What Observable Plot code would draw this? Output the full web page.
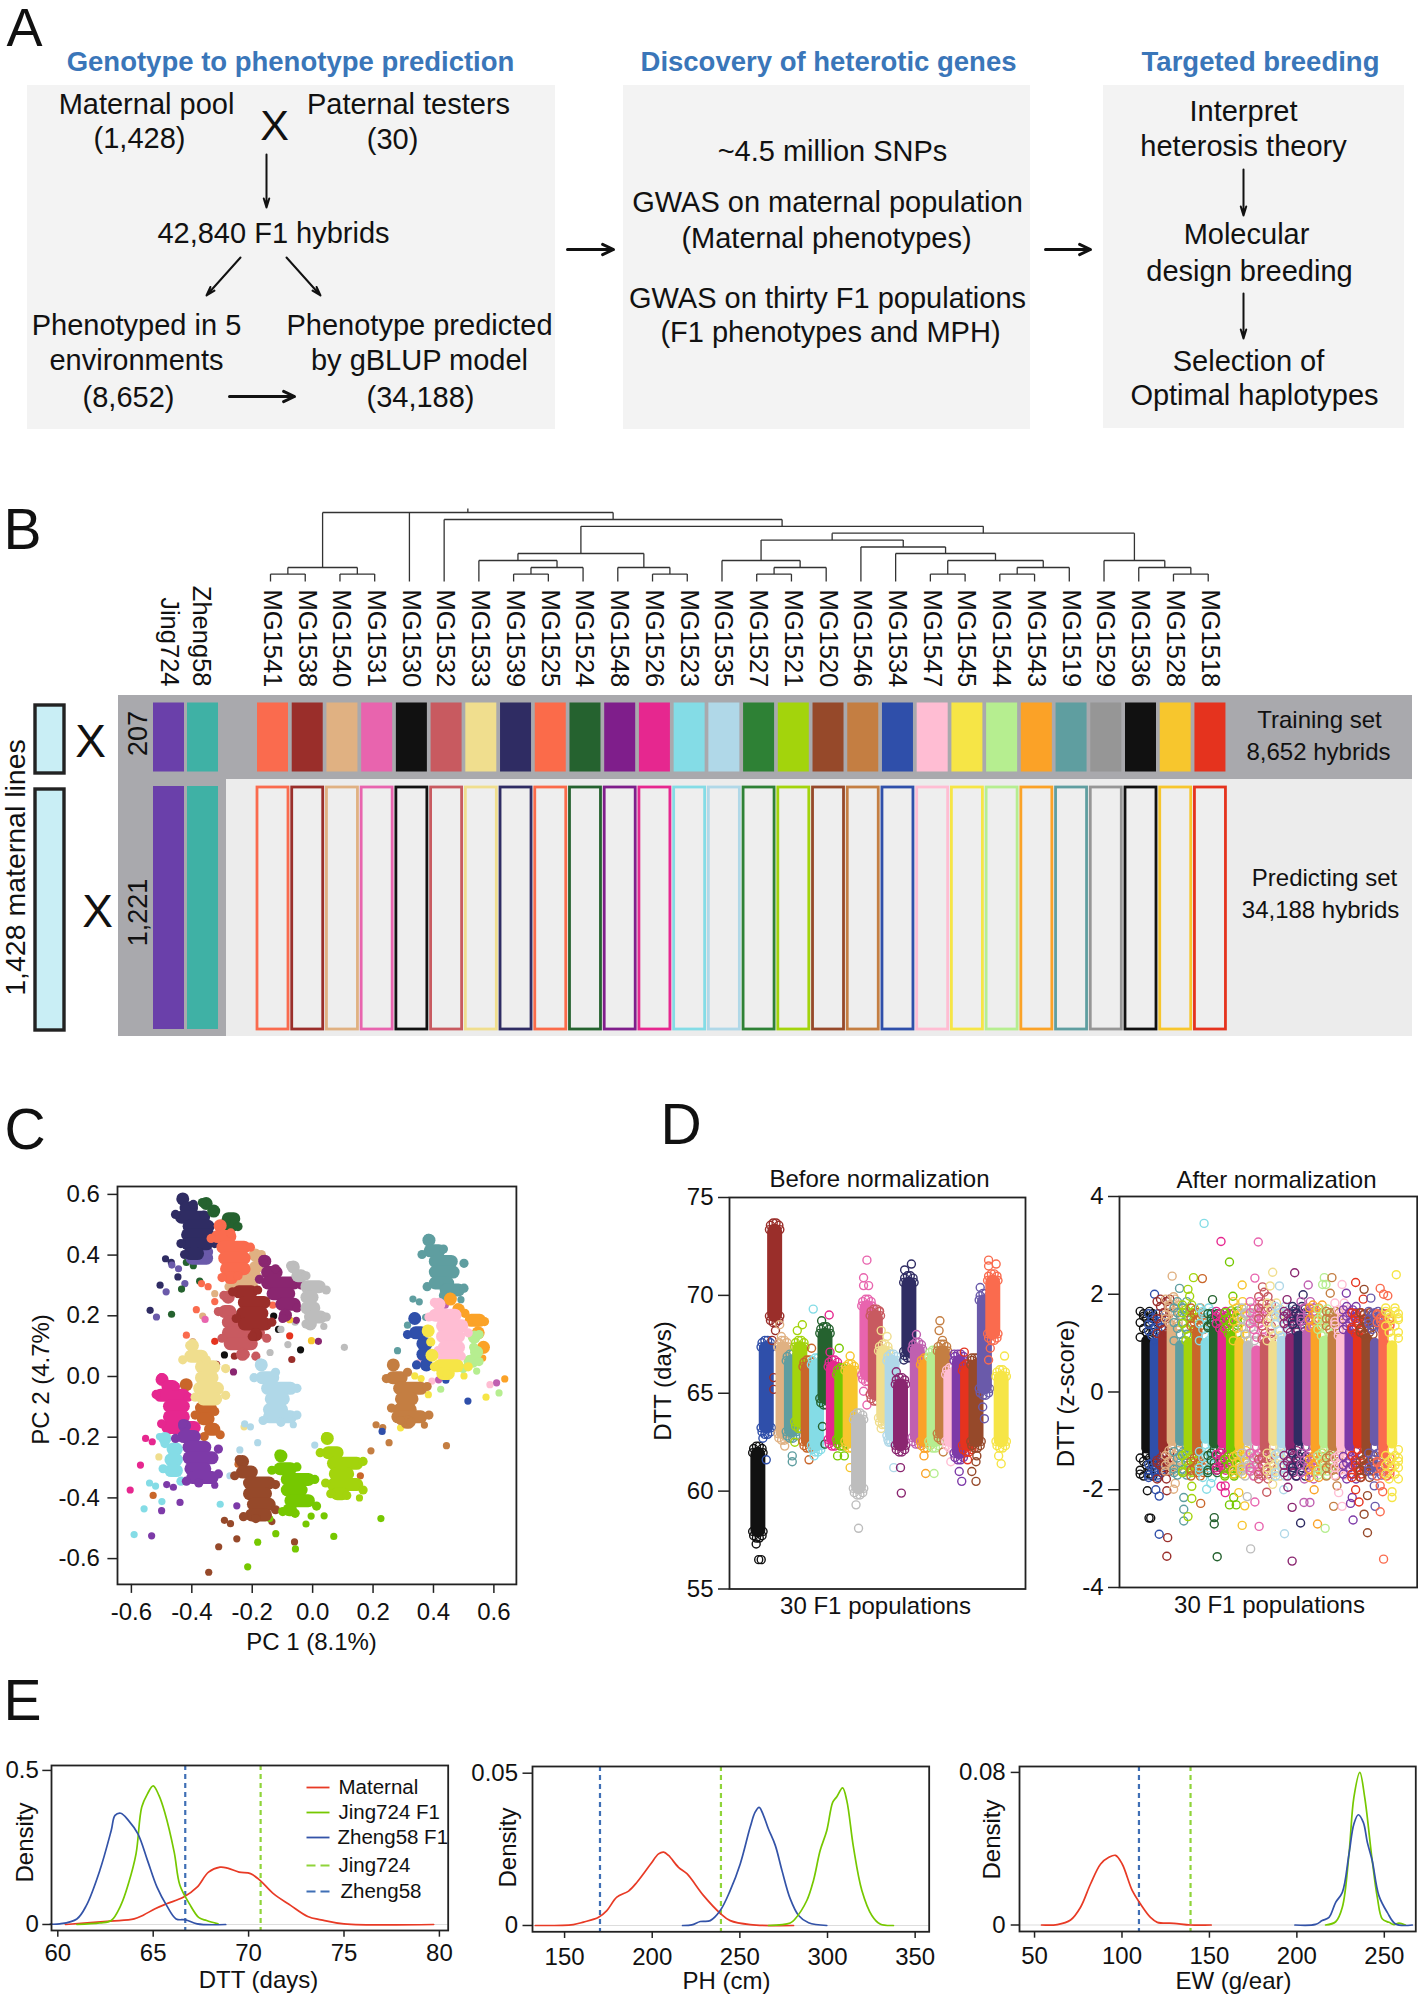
<!DOCTYPE html>
<html><head><meta charset="utf-8">
<script src="https://cdn.jsdelivr.net/npm/d3@7"></script>
<script src="https://cdn.jsdelivr.net/npm/@observablehq/plot@0.6"></script>
<style>
html,body{margin:0;padding:0;background:#fff}
#root{position:relative;width:1418px;height:1994px;overflow:hidden}
#root>div{position:absolute}
svg{display:block}
</style></head><body><div id="root"></div>
<script>
// ---------- panel A text
const headings=[["Genotype to phenotype prediction",290,62],["Discovery of heterotic genes",828,62],["Targeted breeding",1260,62]];
const boxTexts=[["Maternal pool",146,104],["(1,428)",139,138],["Paternal testers",408,104],["(30)",392,139],["42,840 F1 hybrids",273,233],["Phenotyped in 5",136,325],["environments",136,360],["(8,652)",128,397],["Phenotype predicted",419,325],["by gBLUP model",419,360],["(34,188)",420,397],
["~4.5 million SNPs",832,151],["GWAS on maternal population",827,202],["(Maternal phenotypes)",826,238],["GWAS on thirty F1 populations",827,298],["(F1 phenotypes and MPH)",830,332],
["Interpret",1243,111],["heterosis theory",1243,146],["Molecular",1246,234],["design breeding",1249,271],["Selection of",1248,361],["Optimal haplotypes",1254,395]];
const boxes=[[27,555,85,429],[623,1030,85,429],[1103,1404,85,428]];
const thinArrows=[[266,154,266,207],[240,257,206,295],[286,257,320,295],[1243,169,1243,215],[1243,293,1243,338]];
const thickArrows=[[229,396,294,396],[567,249,613,249],[1045,249,1090,249]];
// ---------- panel B
const testers=["MG1541","MG1538","MG1540","MG1531","MG1530","MG1532","MG1533","MG1539","MG1525","MG1524","MG1548","MG1526","MG1523","MG1535","MG1527","MG1521","MG1520","MG1546","MG1534","MG1547","MG1545","MG1544","MG1543","MG1519","MG1529","MG1536","MG1528","MG1518"];
const testerColors=["#fa6b4e","#9a2e2a","#e0b182","#e864ae","#111111","#c85a60","#f0de8e","#2f2c63","#fb6b4a","#25622f","#7f1e8b","#e6278f","#84dce6","#b0d8e8","#2e8135","#a3d40c","#96492a","#c47e42","#2f4faa","#ffbdd3","#f6e546","#b6ee90","#fba227","#5f9ea0","#969696","#111111","#f7c62d","#e5331e"];
const tree=[10,[2,[1,0,1],[1,2,3]],4,[9,5,[8,[4,[3,6,[2,[1,7,8],9]],[2,10,[1,11,12]]],[7,[6,[3,13,[2,[1,14,15],16]],[5,17,[4,18,[3,[1,19,20],[2,[1,21,22],23]]]]],[3,24,[2,25,[1,26,27]]]]]]];
const treeLevels=[581,573.6,567,560,553,546.5,539.6,532.7,525.8,519,512];
// ---------- panel D / C palette (30 populations)
const popColors=["#111111","#2f4faa","#9a2e2a","#e0b182","#5f9ea0","#a3d40c","#c9662a","#84dce6","#25622f","#e6278f","#76c800","#f7c62d","#bdbdbd","#e864ae","#c85a60","#f0de8e","#b0d8e8","#8a2670","#2f2c63","#c060b0","#fba227","#b6ee90","#c47e42","#ffbdd3","#7d3aa8","#e5331e","#96492a","#6a5aaa","#fa6b4e","#f6e546"];
// ---------- panel C clusters: colour, body spans [x start, x end, y], edge points [x, y]
const pcaClusters=[
["#6a5aaa",[[-.42,-.33,.39],[-.40,-.33,.41]],[]],
["#2f2c63",[[-.44,-.42,.585],[-.44,-.38,.555],[-.455,-.34,.525],[-.43,-.325,.495],[-.435,-.325,.467],[-.435,-.33,.437],[-.425,-.36,.405]],[[-.454,.534],[-.395,.567],[-.359,.532],[-.436,.438],[-.424,.402],[-.324,.438]]],
["#25622f",[[-.365,-.34,.57],[-.345,-.31,.545],[-.30,-.24,.52],[-.30,-.247,.497]],[[-.365,.573],[-.324,.544],[-.288,.511],[-.247,.494]]],
["#e0b182",[[-.21,-.17,.40],[-.21,-.165,.36],[-.25,-.17,.33],[-.282,-.182,.30]],[[-.17,.402],[-.277,.296],[-.217,.326],[-.188,.32]]],
["#fa6b4e",[[-.318,-.294,.497],[-.336,-.253,.461],[-.318,-.206,.426],[-.312,-.206,.39],[-.306,-.206,.355],[-.294,-.247,.326]],[[-.336,.455],[-.271,.473],[-.206,.426],[-.30,.326],[-.247,.332],[-.312,.496]]],
["#8a2670",[[-.17,-.147,.38],[-.17,-.10,.343],[-.17,-.04,.308],[-.152,-.058,.273],[-.123,-.04,.238],[-.11,-.07,.202]],[[-.164,.385],[-.123,.355],[-.04,.302],[-.052,.226],[-.099,.191],[-.176,.32]]],
["#bdbdbd",[[-.076,-.052,.361],[-.07,-.017,.332],[-.04,.043,.296],[-.04,.019,.261],[-.04,.025,.226],[-.028,.048,.196],[-.022,.007,.173]],[[-.073,.365],[-.022,.332],[.045,.285],[.045,.196],[-.022,.173]]],
["#c85a60",[[-.294,-.265,.261],[-.312,-.253,.214],[-.30,-.182,.179],[-.30,-.158,.144],[-.294,-.182,.108],[-.247,-.217,.073]],[[-.294,.267],[-.312,.214],[-.30,.126],[-.223,.073],[-.188,.067],[-.152,.126]]],
["#9a2e2a",[[-.265,-.182,.279],[-.247,-.14,.244],[-.253,-.147,.208],[-.247,-.135,.173],[-.206,-.17,.138]],[[-.265,.279],[-.182,.285],[-.135,.179],[-.253,.191],[-.2,.132]]],
["#c9662a",[[-.424,-.413,-.027],[-.389,-.318,-.104],[-.383,-.325,-.139],[-.359,-.306,-.174]],[[-.324,-.115],[-.306,-.192],[-.389,-.127],[-.359,-.198]]],
["#e6278f",[[-.507,-.49,-.01],[-.50,-.442,-.033],[-.525,-.407,-.062],[-.495,-.407,-.098],[-.495,-.407,-.133],[-.50,-.371,-.168]],[[-.5,-.004],[-.518,-.059],[-.412,-.068],[-.5,-.156],[-.454,-.033]]],
["#f0de8e",[[-.407,-.389,.102],[-.424,-.347,.067],[-.389,-.306,.032],[-.389,-.312,-.004],[-.395,-.294,-.039],[-.383,-.30,-.074]],[[-.407,.102],[-.43,.055],[-.288,.026],[-.288,-.062],[-.389,-.068],[-.352,.055]]],
["#84dce6",[[-.50,-.478,-.204],[-.483,-.43,-.239],[-.49,-.43,-.274],[-.49,-.43,-.31]],[[-.495,-.304],[-.489,-.221],[-.436,-.345]]],
["#7d3aa8",[[-.43,-.418,-.162],[-.448,-.371,-.198],[-.43,-.336,-.233],[-.43,-.312,-.268],[-.424,-.336,-.304],[-.418,-.312,-.333]],[[-.43,-.156],[-.454,-.204],[-.312,-.239],[-.312,-.321],[-.377,-.351],[-.418,-.345]]],
["#b0d8e8",[[-.176,-.164,.038],[-.188,-.111,-.004],[-.17,-.052,-.039],[-.158,-.076,-.074],[-.164,-.082,-.109],[-.164,-.052,-.133]],[[-.174,.044],[-.194,-.004],[-.052,-.039],[-.052,-.127],[-.164,-.145],[-.105,-.151],[-.123,.014]]],
["#96492a",[[-.241,-.223,-.28],[-.253,-.182,-.315],[-.23,-.123,-.351],[-.23,-.135,-.386],[-.217,-.123,-.421],[-.223,-.135,-.456]],[[-.243,-.274],[-.258,-.327],[-.123,-.356],[-.123,-.439],[-.229,-.462],[-.188,-.468]]],
["#76c800",[[-.111,-.099,-.262],[-.129,-.052,-.304],[-.105,.007,-.339],[-.105,-.017,-.374],[-.093,.007,-.409],[-.099,-.052,-.439]],[[-.111,-.256],[-.135,-.309],[-.052,-.298],[.007,-.339],[.013,-.427],[-.099,-.445],[-.058,-.451]]],
["#a3d40c",[[.043,.054,-.204],[.031,.102,-.251],[.048,.167,-.286],[.054,.137,-.321],[.048,.167,-.356],[.06,.119,-.386]],[[.045,-.198],[.025,-.251],[.167,-.28],[.167,-.374],[.06,-.386],[.113,-.392],[.043,-.351]]],
["#5f9ea0",[[.379,.391,.449],[.368,.439,.414],[.385,.48,.379],[.385,.486,.344],[.385,.468,.308],[.421,.504,.285]],[[.383,.455],[.362,.402],[.433,.42],[.501,.373],[.379,.296],[.501,.291],[.433,.267]]],
["#2f4faa",[[.332,.344,.191],[.32,.38,.144],[.344,.397,.108],[.344,.397,.073],[.362,.391,.038]],[[.336,.196],[.314,.138],[.344,.038]]],
["#fba227",[[.45,.462,.255],[.462,.504,.22],[.504,.574,.185],[.539,.557,.144],[.557,.574,.096]],[[.454,.261],[.504,.208],[.569,.181],[.563,.091],[.545,.179],[.48,.226]]],
["#b6ee90",[[.52,.55,.13],[.525,.56,.08],[.50,.55,.05]],[[.551,.138],[.533,.096],[.551,.049],[.498,.026]]],
["#ffbdd3",[[.403,.433,.238],[.385,.492,.202],[.409,.515,.167],[.409,.504,.132],[.415,.504,.096],[.415,.492,.061]],[[.403,.244],[.385,.196],[.515,.144],[.492,.067],[.415,.085]]],
["#f6e546",[[.375,.39,.15],[.39,.40,.07],[.40,.50,.035],[.41,.47,.01]],[[.379,.155],[.391,.114],[.444,.008],[.515,.032],[.403,.032]]],
["#c47e42",[[.261,.273,.038],[.244,.314,-.004],[.267,.379,-.039],[.273,.35,-.074],[.267,.344,-.109],[.261,.379,-.133],[.291,.338,-.151]],[[.264,.04],[.244,-.007],[.379,-.033],[.385,-.127],[.261,-.104],[.326,-.151],[.291,-.145],[.314,.014]]]
];
// panel C scattered points: colour, x, y
const pcaDots=[
["#2f2c63",[[-.487,.388],[-.468,.376],[-.446,.328],[-.505,.301],[-.538,.218]]],
["#6a5aaa",[[-.466,.367],[-.444,.355],[-.423,.306],[-.485,.279],[-.517,.196]]],
["#25622f",[[-.418,.376],[-.395,.365],[-.374,.314],[-.434,.288],[-.467,.205]]],
["#fa6b4e",[[-.368,.306],[-.346,.296],[-.324,.247],[-.385,.22],[-.418,.136],[-.132,.235]]],
["#e0b182",[[-.364,.199],[-.397,.115],[-.324,.273]]],
["#e864ae",[[-.356,.188]]],
["#e5331e",[[-.324,.116],[-.076,.134]]],
["#9a2e2a",[[-.30,.126],[-.318,.04],[-.352,-.045],[-.069,.056],[-.259,.067]]],
["#111111",[[-.292,.071],[-.04,.088],[-.129,.199],[-.113,.155]]],
["#bdbdbd",[[-.141,.079],[-.082,.105],[.105,.096],[.037,.165],[-.058,.179],[-.105,.155]]],
["#8a2670",[[.019,.116],[-.262,.015],[-.229,.099],[-.054,.185]]],
["#f7c62d",[[-.004,.118],[-.076,.187]]],
["#7d3aa8",[[-.483,-.356],[-.461,-.365],[-.439,-.415],[-.5,-.442],[-.533,-.525],[-.324,-.358],[-.251,-.426]]],
["#84dce6",[[-.54,-.351],[-.52,-.361],[-.499,-.412],[-.558,-.436],[-.591,-.521],[-.306,-.421],[-.507,-.198]]],
["#e6278f",[[-.553,-.204],[-.531,-.215],[-.57,-.292],[-.604,-.374]]],
["#f0de8e",[[-.478,-.182],[-.509,-.265],[-.459,-.094],[-.439,-.106],[-.227,-.166]]],
["#c9662a",[[-.528,-.392],[-.247,-.289],[-.423,-.025],[.158,-.327]]],
["#b0d8e8",[[-.225,-.156],[-.206,-.166],[-.241,-.242],[-.182,-.218],[.007,-.226],[-.064,-.159],[-.274,-.327]]],
["#96492a",[[-.292,-.474],[-.272,-.485],[-.251,-.535],[-.311,-.561],[-.344,-.645],[-.06,-.545],[-.135,-.478],[-.188,-.468]]],
["#76c800",[[-.163,-.458],[-.142,-.468],[-.122,-.518],[-.182,-.546],[-.215,-.627],[-.057,-.568],[-.022,-.486],[-.005,-.46],[.038,-.459],[.07,-.527],[.226,-.468]]],
["#a3d40c",[[.155,-.4]]],
["#c47e42",[[.21,-.159],[.232,-.168],[.253,-.218],[.193,-.245],[.443,-.228],[.37,-.16]]],
["#2f4faa",[[.23,-.181],[.514,-.081],[.441,-.012],[.415,.032]]],
["#f6e546",[[.291,-.169],[.574,-.068],[.501,.002],[.338,.002],[.359,-.007],[.383,-.06]]],
["#ffbdd3",[[.303,-.127],[.587,-.027],[.395,-.015],[.336,-.042],[.352,.046]]],
["#c060b0",[[.609,-.021],[.417,-.011],[.427,.249],[.439,.235]]],
["#b6ee90",[[.617,-.054],[.424,-.042],[.543,.018]]],
["#fba227",[[.636,-.008],[.563,.061]]],
["#5f9ea0",[[.332,.255],[.353,.246],[.374,.195],[.314,.169],[.281,.085],[.491,.253]]]
];
// ---------- panel D before normalization: top and bottom of each strip
const beforeHi=[62.3,67.7,73.7,67.7,67,67.7,66.7,66.8,68.4,66.7,66.3,66.5,64,69.8,69.3,67.5,67,65.8,71,67.6,66.8,67.2,67.5,66.3,67,66.5,66.8,70.1,71.1,66.2];
const beforeLo=[57.6,62.9,68.6,62.6,62.7,63.2,62.2,62,64.4,62.3,62.3,62.2,59.8,65.6,64.6,63.4,62.5,62,66.8,62.4,62.2,62.2,62.6,62.2,61.6,62,62.2,64.9,67.7,62.2];
// pop, position, y
const beforeOut=[[1,.8,57.3],[1,1.1,56.5],[1,1.4,56.5],[2,1.6,62.7],[2,2,61.6],[3,2.7,67.7],[3,3.1,68.2],[3,2.9,65.8],[3,2.9,65.2],[4,3.6,68.5],[4,3.8,67.9],[4,4.2,62.3],[5,5.1,61.8],[5,5.1,61.5],[6,5.7,68.2],[6,6.3,68.5],[6,5.4,62.5],[7,7.4,67.3],[7,7.1,61.6],[8,7.6,69.3],[8,7.7,61.8],[9,8.6,68.7],[9,8.7,63.3],[9,9,62.4],[10,9.5,69],[10,9.6,67.1],[11,10.7,67.3],[11,10.5,61.8],[11,11.3,61.8],[12,12,66.9],[12,12,61.2],[13,12.7,59.3],[13,13,58.1],[14,14,71.8],[14,13.6,70.9],[14,13.6,70.5],[14,14.2,70.5],[14,13.6,65.1],[14,14,64.4],[15,15.5,69.2],[15,15.3,68.8],[16,15.7,68.2],[16,16.4,67.9],[16,15.7,63.2],[17,17.2,61.2],[17,16.6,62.5],[18,17.5,66.1],[18,18,61.2],[18,18.1,59.9],[19,19.3,71.6],[19,18.5,71.3],[19,18.4,66.7],[20,19.9,68],[21,21,60.9],[21,20.8,61.8],[22,22,60.9],[23,22.7,68.7],[23,22.6,68.2],[23,23,67.7],[23,23.1,62],[24,24,61.5],[25,25.3,60.5],[25,25,61],[25,24.4,67],[26,25.6,67.1],[26,26,61.6],[27,27,60.5],[27,26.5,61],[27,27,61.5],[27,27.1,61.8],[27,26.5,66.8],[28,27.5,70.4],[28,28,63.7],[28,27.8,64.3],[29,28.5,71.8],[29,29.4,71.6],[29,28.5,71.5],[29,28.5,66.7],[29,28.7,67.3],[30,30.4,66.9],[30,30,61.4],[30,29.7,61.8]];
// ---------- panel D after normalization
const afterHi=[1.05,1.0,1.15,1.3,.95,1.0,1.25,1.0,1.3,1.2,1.15,1.0,.95,.85,1.0,.95,1.05,1.1,1.15,1.2,1.25,1.05,1.15,1.1,1.2,1.15,1.1,1.0,1.3,.95];
const afterLo=[-1.15,-1.3,-1.15,-1.0,-1.0,-1.1,-1.2,-.95,-1.05,-1.05,-1.15,-1.1,-1.0,-1.0,-1.15,-1.0,-1.05,-1.1,-1.0,-1.0,-1.15,-1.05,-1.1,-1.1,-1.1,-1.05,-1.2,-1.0,-1.25,-1.05];
const afterTop=[
[1.65,1.6,1.5,1.42,1.3,1.22,1.12,1.55],[1.6,1.45,1.32,1.25,1.15,1.05,1.38,1.52],[1.85,1.75,1.62,1.5,1.4,1.28,1.2,1.9],[1.9,1.78,1.65,1.5,1.42,1.35,1.58,1.72],[1.72,1.62,1.55,1.42,1.3,1.18,1.05,1.85],[1.78,1.68,1.52,1.4,1.28,1.15,1.62,1.05],
[1.72,1.6,1.48,1.35,1.28,1.62,1.52,1.42],[1.72,1.6,1.52,1.4,1.28,1.15,1.05,1.65],[1.6,1.5,1.42,1.35,1.6,1.48,1.32,1.4],[1.65,1.6,1.5,1.4,1.3,1.25,1.55,1.45],[1.62,1.52,1.42,1.3,1.2,1.66,1.48,1.36],[1.85,1.72,1.6,1.45,1.3,1.18,1.05,1.55],
[1.72,1.6,1.45,1.32,1.18,1.05,1.5,1.62],[1.85,1.7,1.55,1.4,1.28,1.12,1.62,1.48],[1.95,1.8,1.65,1.5,1.35,1.2,1.72,1.08],[1.82,1.7,1.58,1.42,1.28,1.15,1.05,1.52],[1.75,1.62,1.5,1.38,1.25,1.12,1.55,1.68],[1.65,1.6,1.5,1.4,1.3,1.22,1.55,1.45],
[1.75,1.62,1.5,1.38,1.25,1.58,1.45,1.7],[1.85,1.72,1.58,1.45,1.32,1.65,1.52,1.38],[1.72,1.58,1.45,1.32,1.78,1.62,1.48,1.35],[1.7,1.55,1.42,1.28,1.15,1.62,1.48,1.35],[1.65,1.5,1.48,1.35,1.28,1.42,1.5,1.62],[1.82,1.68,1.52,1.38,1.25,1.62,1.45,1.15],
[1.68,1.55,1.42,1.28,1.75,1.62,1.48,1.35],[1.62,1.5,1.4,1.28,1.6,1.45,1.32,1.2],[1.62,1.48,1.35,1.22,1.58,1.42,1.3,1.18],[1.65,1.6,1.52,1.4,1.28,1.62,1.48,1.35],[1.6,1.5,1.38,1.58,1.45,1.35,1.42,1.52],[1.72,1.6,1.48,1.35,1.22,1.1,1.65,1.52]];
const afterBot=[
[-1.25,-1.35,-1.42,-1.5,-1.6,-1.72,-1.3,-1.68],[-1.38,-1.48,-1.55,-1.65,-1.75,-1.45,-1.6,-1.7],[-1.25,-1.4,-1.5,-1.62,-1.78,-1.35,-1.55,-1.45],[-1.15,-1.3,-1.42,-1.55,-1.62,-1.2,-1.38,-1.5],[-1.12,-1.22,-1.35,-1.45,-1.58,-1.7,-1.3,-1.65],[-1.2,-1.3,-1.42,-1.55,-1.65,-1.25,-1.5,-1.62],
[-1.3,-1.42,-1.55,-1.65,-1.72,-1.35,-1.48,-1.6],[-1.08,-1.22,-1.35,-1.48,-1.62,-1.75,-1.3,-1.55],[-1.18,-1.3,-1.4,-1.55,-1.65,-1.25,-1.45,-1.6],[-1.18,-1.28,-1.38,-1.5,-1.6,-1.25,-1.42,-1.55],[-1.25,-1.38,-1.5,-1.62,-1.72,-1.32,-1.45,-1.68],[-1.2,-1.32,-1.45,-1.55,-1.68,-1.28,-1.42,-1.6],
[-1.12,-1.25,-1.38,-1.5,-1.62,-1.72,-1.3,-1.55],[-1.12,-1.25,-1.35,-1.48,-1.62,-1.72,-1.3,-1.55],[-1.25,-1.38,-1.5,-1.62,-1.78,-1.35,-1.45,-1.68],[-1.12,-1.25,-1.38,-1.5,-1.62,-1.72,-1.32,-1.55],[-1.15,-1.28,-1.4,-1.55,-1.65,-1.25,-1.48,-1.72],[-1.2,-1.3,-1.42,-1.52,-1.65,-1.72,-1.35,-1.5],
[-1.12,-1.25,-1.38,-1.5,-1.62,-1.72,-1.32,-1.55],[-1.12,-1.25,-1.4,-1.55,-1.65,-1.78,-1.32,-1.48],[-1.25,-1.38,-1.5,-1.62,-1.75,-1.32,-1.45,-1.58],[-1.18,-1.3,-1.42,-1.55,-1.7,-1.25,-1.48,-1.62],[-1.22,-1.35,-1.48,-1.6,-1.72,-1.3,-1.42,-1.55],[-1.22,-1.35,-1.48,-1.6,-1.7,-1.3,-1.42,-1.55],
[-1.22,-1.32,-1.45,-1.55,-1.68,-1.78,-1.38,-1.5],[-1.18,-1.3,-1.5,-1.62,-1.75,-1.4,-1.55,-1.68],[-1.3,-1.42,-1.52,-1.62,-1.75,-1.38,-1.48,-1.6],[-1.12,-1.25,-1.38,-1.5,-1.62,-1.7,-1.3,-1.55],[-1.35,-1.45,-1.55,-1.68,-1.42,-1.52,-1.62,-1.72],[-1.18,-1.3,-1.42,-1.55,-1.68,-1.78,-1.35,-1.5]];
const afterOut=[[8,7.8,3.45],[10,9.8,3.08],[14,14.2,3.07],[11,10.8,2.66],[4,4.03,2.37],[6,6.55,2.34],[7,7.6,2.32],[30,30.5,2.4],[16,15.9,2.45],[18,18.5,2.44],[22,22,2.34],[23,22.9,2.34],[14,13.8,2.33],[26,25.7,2.24],[12,12.3,2.19],[20,20.1,2.19],[24,24.1,2.2],[27,26.7,2.1],[29,28.6,2.12],[5,4.9,2.12],[6,5.9,2.1],[2,1.95,2],[25,24.6,2.02],[19,19.5,1.99],[23,22.7,2.02],[29,29.5,1.97],[28,27.5,1.92],[18,17.6,1.89],[9,8.8,1.89],[11,11.2,1.96],[16,15.6,2.17],[17,16.7,2.17],[4,4.2,1.95],[6,6.1,1.96],[15,14.7,2.15],[15,14.9,2.04],[22,21.8,2.2],[22,22.2,2.2],[26,26.6,1.9],[29,29,2.0],
[1,1.1,-2.02],[1,1.5,-2.58],[1,1.3,-2.58],[2,2.1,-2],[2,2.5,-2.13],[2,2.5,-2.91],[3,3.5,-2.98],[3,3.4,-3.36],[3,3.4,-2.02],[4,4.4,-1.87],[4,4.2,-1.99],[5,5.4,-2.16],[5,5.4,-2.4],[5,5.4,-2.64],[6,5.9,-2.55],[6,6.35,-2.18],[6,6.35,-1.93],[7,7.4,-2.28],[8,8.1,-1.99],[8,8.6,-1.87],[9,9,-2.57],[9,9,-2.7],[9,9.35,-3.37],[10,9.8,-1.93],[10,10.3,-1.92],[10,10.3,-2.06],[11,11.3,-2.16],[11,10.8,-2.31],[11,11.6,-2.31],[12,11.9,-2.06],[12,12.6,-2.33],[12,12.3,-2.73],[13,12.9,-2.14],[13,13.3,-3.21],[14,13.8,-2.25],[14,14.3,-2.75],[15,15.2,-2.05],[16,15.9,-1.89],[17,17.3,-2.9],[17,17.2,-2],[18,17.7,-1.95],[18,18.2,-2.36],[18,18.2,-3.46],[19,19.2,-2.68],[20,19.6,-2.26],[20,20.3,-2.26],[21,21.2,-2.7],[21,20.8,-2],[22,22.1,-2.79],[23,23.1,-2.34],[23,23.5,-1.92],[24,23.7,-2.06],[24,24.1,-2.34],[25,25.1,-2.28],[25,25.3,-2.16],[25,25.4,-2.62],[26,25.7,-2],[26,26.1,-2.25],[27,27.1,-2.12],[27,26.7,-2.5],[27,27.1,-2.88],[28,28,-2.34],[28,27.9,-1.92],[29,28.6,-2.45],[29,28.6,-1.92],[29,28.9,-2.04],[29,29,-3.42],[30,30,-2.16],[30,30,-2.04]];
// ---------- panel E curves: [x, density]
const dttMaternal=[[60.4,0],[62.76,.011],[64,.018],[64.5,.031],[65.1,.051],[65.7,.067],[66.6,.089],[67.3,.121],[67.9,.17],[68.5,.186],[68.9,.183],[69.5,.17],[70.1,.165],[70.6,.143],[71.3,.1],[72.2,.062],[73.1,.026],[73.8,.015],[75,.002],[79.7,0]];
const dttJing=[[61,0],[62.2,.005],[62.8,.013],[63.3,.062],[63.7,.132],[64.1,.229],[64.4,.381],[64.7,.424],[65,.45],[65.3,.419],[65.6,.365],[66.1,.235],[66.4,.127],[66.9,.067],[67.4,.022],[67.8,.013],[68.4,.002]];
const dttZheng=[[59.6,.001],[60.1,.002],[61,.018],[61.5,.062],[62.2,.175],[62.8,.305],[63,.354],[63.3,.361],[63.7,.338],[64.2,.294],[64.7,.208],[65.2,.121],[65.7,.062],[66.2,.018],[66.7,.015],[67.3,.002],[68.8,0]];
const phMaternal=[[133.3,0],[155,.0003],[160.8,.0011],[169.4,.0027],[174.1,.0049],[179.8,.0093],[186.5,.0113],[191.3,.0142],[198.9,.02],[203.6,.0235],[206.5,.0241],[209.3,.023],[215,.0191],[219.8,.017],[229.3,.0098],[238.8,.004],[244.5,.0016],[255.9,.0003],[280.6,0]];
const phZheng=[[217.3,0],[222.6,.0002],[227.4,.0013],[233.1,.0016],[238.8,.0049],[244.5,.0115],[250.2,.0202],[255.9,.0323],[258.7,.0372],[261,.0388],[263.5,.0361],[266.3,.0317],[270.2,.0263],[274,.0181],[278.7,.0088],[283.5,.0033],[289.2,.0009],[299.6,0]];
const phJing=[[266.3,0],[278.7,.0008],[281.6,.0022],[288.2,.0082],[292,.0148],[295.8,.0246],[299.6,.0312],[303,.0405],[305.3,.0423],[308.6,.0452],[311,.041],[314.8,.0257],[319.6,.0115],[325.3,.0033],[330,.0005],[337.6,0]];
const ewMaternal=[[54,0],[63,.0002],[70.6,.0026],[76.3,.0093],[82,.0215],[87.8,.032],[92.5,.0355],[96.3,.0365],[100.1,.032],[105.9,.018],[110.6,.011],[116.3,.004],[120.2,.0014],[129.7,.0009],[139.2,0],[151,0]];
const ewZheng=[[198.9,0],[210.7,.0003],[214.5,.0023],[218.4,.004],[222.2,.0119],[226,.0171],[229.8,.0372],[232.6,.0529],[235.1,.0578],[238,.0538],[240.3,.0433],[243.1,.0337],[246.9,.0154],[251.7,.0066],[256.5,.0005],[266,0]];
const ewJing=[[216.4,0],[222.2,.0017],[226,.0093],[229.8,.0372],[232.6,.0669],[236,.08],[238.8,.0669],[243.1,.0337],[246,.0145],[248.9,.0031],[252.7,.0014],[255.5,.0002],[258.4,.001],[262,0]];
const legendNames=["Maternal","Jing724 F1","Zheng58 F1","Jing724","Zheng58"];
const legendColors=["#e83a25","#76c800","#3353a8","#8fd43a","#3f6fb5"];
// ---------- helpers
const FONT='"Liberation Sans",Arial,sans-serif';
const INK="#111";
const root=document.getElementById("root");
function mount(svg,l,t,w,h){const d=document.createElement("div");d.style.cssText=`left:${l}px;top:${t}px;width:${w}px;height:${h}px`;d.appendChild(svg);root.appendChild(d);}
function panel([l,t,r,b],xDomain,yDomain,marks){
  const P={L:110,T:30,R:24,B:60};
  const w=r-l+P.L+P.R,h=b-t+P.T+P.B;
  const svg=Plot.plot({width:w,height:h,marginLeft:P.L,marginTop:P.T,marginRight:P.R,marginBottom:P.B,
    x:{domain:xDomain,axis:null},y:{domain:yDomain,axis:null},
    style:{background:"transparent",fontFamily:FONT,maxWidth:"none"},marks});
  mount(svg,l-P.L,t-P.T,w,h);
}
const txt=(rows,o)=>Plot.text(rows,{x:d=>d[1],y:d=>d[2],text:d=>d[0],fontSize:29,fill:INK,...o});
const frame=()=>Plot.frame({stroke:"#222",strokeWidth:1.8});
const yAxis=(ticks,pad,size,fmt)=>Plot.axisY({ticks,tickSize:size,tickPadding:pad,fontSize:24,label:null,tickFormat:fmt,stroke:"#222",strokeWidth:1.5,fill:INK});
const xAxis=(ticks,pad,size,fmt)=>Plot.axisX({ticks,tickSize:size,tickPadding:pad,fontSize:24,label:null,tickFormat:fmt,stroke:"#222",strokeWidth:1.5,fill:INK});
// ---------- dendrogram segments
const treeSegs=[];
const leafX=i=>270+i*34.73;
function walk(n){
  if(typeof n==="number")return {x:leafX(n),y:treeLevels[0]};
  const y=treeLevels[n[0]];
  const kids=n.slice(1).map(walk);
  const a=kids[0].x,b=kids[kids.length-1].x;
  treeSegs.push([a,y,b,y]);
  kids.forEach(k=>treeSegs.push([k.x,y,k.x,k.y]));
  return {x:(a+b)/2,y};
}
const rootNode=walk(tree);
treeSegs.push([rootNode.x,rootNode.y,rootNode.x,508]);
// ---------- schematic layer
const swX=i=>257+i*34.72, SW=31;
const idx=d3.range(testers.length);
const schematic=Plot.plot({width:1418,height:1994,margin:0,x:{domain:[0,1418],range:[0,1418],axis:null},y:{domain:[0,1994],range:[0,1994],axis:null},
 style:{background:"transparent",fontFamily:FONT,maxWidth:"none"},
 marks:[
  Plot.rect(boxes,{x1:d=>d[0],x2:d=>d[1],y1:d=>d[2],y2:d=>d[3],fill:"#f3f3f3"}),
  txt(headings,{fontSize:27.5,fontWeight:"bold",fill:"#3a76b9"}),
  txt(boxTexts,{}),
  txt([["X",274,126]],{fontSize:43}),
  Plot.arrow(thinArrows,{x1:d=>d[0],y1:d=>d[1],x2:d=>d[2],y2:d=>d[3],stroke:INK,strokeWidth:2,headLength:7,headAngle:34}),
  Plot.arrow(thickArrows,{x1:d=>d[0],y1:d=>d[1],x2:d=>d[2],y2:d=>d[3],stroke:INK,strokeWidth:3,headLength:6,headAngle:50}),
  txt([["A",6,28]],{fontSize:54,textAnchor:"start"}),
  txt([["B",3,530],["C",4,1130],["D",660,1125],["E",3,1701]],{fontSize:57,textAnchor:"start"}),
  // panel B
  Plot.link(treeSegs,{x1:d=>d[0],y1:d=>d[1],x2:d=>d[2],y2:d=>d[3],stroke:"#333",strokeWidth:1.3}),
  txt(testers.map((t,i)=>[t,leafX(i)+1.5,589]),{fontSize:25.5,rotate:90,textAnchor:"start"}),
  txt([["Jing724",168.5,686],["Zheng58",200.5,686]],{fontSize:25.5,rotate:90,textAnchor:"end"}),
  Plot.rect([[118,1412,695,779],[118,226,779,1036]],{x1:d=>d[0],x2:d=>d[1],y1:d=>d[2],y2:d=>d[3],fill:"#a9a9ad"}),
  Plot.rect([[226,1412,779,1036]],{x1:d=>d[0],x2:d=>d[1],y1:d=>d[2],y2:d=>d[3],fill:"#ececec"}),
  Plot.rect([[153,184,"#6a40aa"],[187,218,"#3fb1a5"]],{x1:d=>d[0],x2:d=>d[1],y1:702.5,y2:771.5,fill:d=>d[2]}),
  Plot.rect([[153,184,"#6a40aa"],[187,218,"#3fb1a5"]],{x1:d=>d[0],x2:d=>d[1],y1:786,y2:1029,fill:d=>d[2]}),
  Plot.rect(idx,{x1:i=>swX(i),x2:i=>swX(i)+SW,y1:702.5,y2:771.5,fill:i=>testerColors[i]}),
  Plot.rect(idx,{x1:i=>swX(i),x2:i=>swX(i)+SW,y1:787,y2:1029,fill:"#eeeeee",stroke:i=>testerColors[i],strokeWidth:2.8}),
  Plot.rect([[35,64,705,773],[35,64,789,1030]],{x1:d=>d[0],x2:d=>d[1],y1:d=>d[2],y2:d=>d[3],fill:"#c9eef5",stroke:"#222",strokeWidth:3.4}),
  txt([["207",138,733],["1,221",138,912]],{fontSize:27,rotate:-90}),
  txt([["1,428 maternal lines",15.5,867]],{fontSize:28.5,rotate:-90}),
  txt([["X",90,742],["X",97,912]],{fontSize:46}),
  txt([["Training set",1319,720],["8,652 hybrids",1318,752],["Predicting set",1324,877.5],["34,188 hybrids",1320,910]],{fontSize:24}),
  // axis labels and titles
  txt([["PC 1 (8.1%)",311,1642],["Before normalization",879,1179],["30 F1 populations",875,1605.6],["After normalization",1276,1180],["30 F1 populations",1269,1605],["DTT (days)",258,1980],["PH (cm)",726,1981],["EW (g/ear)",1233,1981]],{fontSize:24}),
  txt([["PC 2 (4.7%)",41,1379],["DTT (days)",663,1380.5],["DTT (z-score)",1066,1393],["Density",25,1842],["Density",508,1847],["Density",992,1839]],{fontSize:24,rotate:-90}),
 ]});
mount(schematic,0,0,1418,1994);
// ---------- panel C
const insetC=.021;
const clusterMarks=pcaClusters.flatMap(([c,rows,edge])=>{
  const spans=rows.map(([a,b,y])=>{const m=(a+b)/2;return {x1:Math.min(m,a+insetC),x2:Math.max(m,b-insetC),y};});
  return [
    Plot.link(spans,{x1:"x1",x2:"x2",y1:"y",y2:"y",stroke:c,strokeWidth:13,strokeLinecap:"round"}),
    Plot.dot(edge,{x:d=>d[0],y:d=>d[1],r:4.6,fill:c})
  ];
});
const dotRows=pcaDots.flatMap(([c,rows])=>rows.map(([x,y])=>({c,x,y})));
const tick1=d=>d.toFixed(1);
panel([116.8,1185.7,515.7,1583.6],[-.646,.6745],[-.685,.626],[
  Plot.dot(dotRows,{x:"x",y:"y",r:3.6,fill:"c"}),
  ...clusterMarks,
  yAxis([-.6,-.4,-.2,0,.2,.4,.6],8,9.6,tick1),
  xAxis([-.6,-.4,-.2,0,.2,.4,.6],10,9,tick1),
  frame()
]);
// ---------- panel D
const capTop=[[-.5,.12],[-.17,0],[.17,0],[.5,.12],[-.62,.34],[.62,.34]];
const beforeMarks=popColors.flatMap((c,i)=>{
  const ends=capTop.flatMap(([o,d])=>[[i+1+o,beforeHi[i]-d],[i+1+o,beforeLo[i]+d]]);
  const out=beforeOut.filter(d=>d[0]===i+1).map(d=>[d[1],d[2]]);
  return [
    Plot.dot([...ends,...out],{x:d=>d[0],y:d=>d[1],r:4,stroke:c,strokeWidth:1.4,fill:"none"}),
    Plot.link([i+1],{x1:d=>d,x2:d=>d,y1:beforeLo[i]+.42,y2:beforeHi[i]-.42,stroke:c,strokeWidth:15,strokeLinecap:"round"})
  ];
});
panel([729,1196.9,1025,1588.4],[-2.38,32.9],[55,75],[
  ...beforeMarks,
  yAxis([55,60,65,70,75],5,11),
  frame()
]);
const colA=[-.75,.75,0],colB=[.35,-.35,.75];
const afterMarks=popColors.flatMap((c,i)=>{
  const ys=[...afterTop[i],...afterBot[i]];
  const rings=ys.flatMap((y,k)=>[[i+1+colA[k%3],y],[i+1+colB[k%3],y]]);
  const out=afterOut.filter(d=>d[0]===i+1).map(d=>[d[1],d[2]]);
  return [
    Plot.link([i+1],{x1:d=>d,x2:d=>d,y1:afterLo[i],y2:afterHi[i],stroke:c,strokeWidth:10.5,strokeLinecap:"round"}),
    Plot.dot([...rings,...out],{x:d=>d[0],y:d=>d[1],r:4,stroke:c,strokeWidth:1.4,fill:"none"})
  ];
});
panel([1119,1195.7,1416.7,1586.7],[-2.19,32.97],[-4,4],[
  ...afterMarks,
  yAxis([-4,-2,0,2,4],5,11,d=>String(d)),
  frame()
]);
// ---------- panel E
function densityPanel(box,xd,yd,xt,yt,series,vb,vg,padX,padY,sizeY,sizeX,fmtY){
  panel(box,xd,yd,[
    Plot.ruleY([0],{stroke:"#ddd",strokeWidth:1.2}),
    Plot.ruleX([vg],{stroke:"#8fd43a",strokeWidth:2.2,strokeDasharray:"5,4"}),
    Plot.ruleX([vb],{stroke:"#3f6fb5",strokeWidth:2.2,strokeDasharray:"5,4"}),
    ...series.map(([pts,c])=>Plot.line(pts,{x:d=>d[0],y:d=>d[1],stroke:c,strokeWidth:1.7,curve:"catmull-rom"})),
    yAxis(yt,padY,sizeY,fmtY),
    xAxis(xt,padX,sizeX,d=>String(d)),
    frame()
  ]);
}
const fmtE=d=>d===0?"0":String(d);
densityPanel([51,1765,447.7,1930],[59.67,80.46],[-.0195,.516],[60,65,70,75,80],[0,.5],[[dttMaternal,"#e83a25"],[dttJing,"#76c800"],[dttZheng,"#3353a8"]],66.68,70.63,7,4,8.7,6.7,fmtE);
densityPanel([532.3,1766,929,1931.3],[131.7,358],[-.00207,.0522],[150,200,250,300,350],[0,.05],[[phMaternal,"#e83a25"],[phZheng,"#3353a8"],[phJing,"#76c800"]],170.2,239.2,9,5,9.5,6.7,fmtE);
densityPanel([1019,1765.7,1415.3,1930.7],[41.4,268],[-.0034,.0831],[50,100,150,200,250],[0,.08],[[ewMaternal,"#e83a25"],[ewJing,"#76c800"],[ewZheng,"#3353a8"]],109.7,139.2,9,5.5,8.3,6.7,fmtE);
// legend for panel E, in page pixels
const legendY=[1787,1812,1837,1865,1891], legendTextX=[338,338,337,338,340];
const legend=Plot.plot({width:1418,height:1994,margin:0,x:{domain:[0,1418],range:[0,1418],axis:null},y:{domain:[0,1994],range:[0,1994],axis:null},
 style:{background:"transparent",fontFamily:FONT,maxWidth:"none"},
 marks:[
  Plot.link(legendNames.slice(0,3),{x1:306,x2:329,y1:(d,i)=>legendY[i],y2:(d,i)=>legendY[i],stroke:(d,i)=>legendColors[i],strokeWidth:1.8}),
  Plot.link(legendNames.slice(3),{x1:306,x2:329,y1:(d,i)=>legendY[i+3],y2:(d,i)=>legendY[i+3],stroke:(d,i)=>legendColors[i+3],strokeWidth:1.8,strokeDasharray:"9,5"}),
  Plot.text(legendNames,{x:(d,i)=>legendTextX[i],y:(d,i)=>legendY[i],text:d=>d,fontSize:20.5,textAnchor:"start",fill:INK})
 ]});
mount(legend,0,0,1418,1994);
</script></body></html>
